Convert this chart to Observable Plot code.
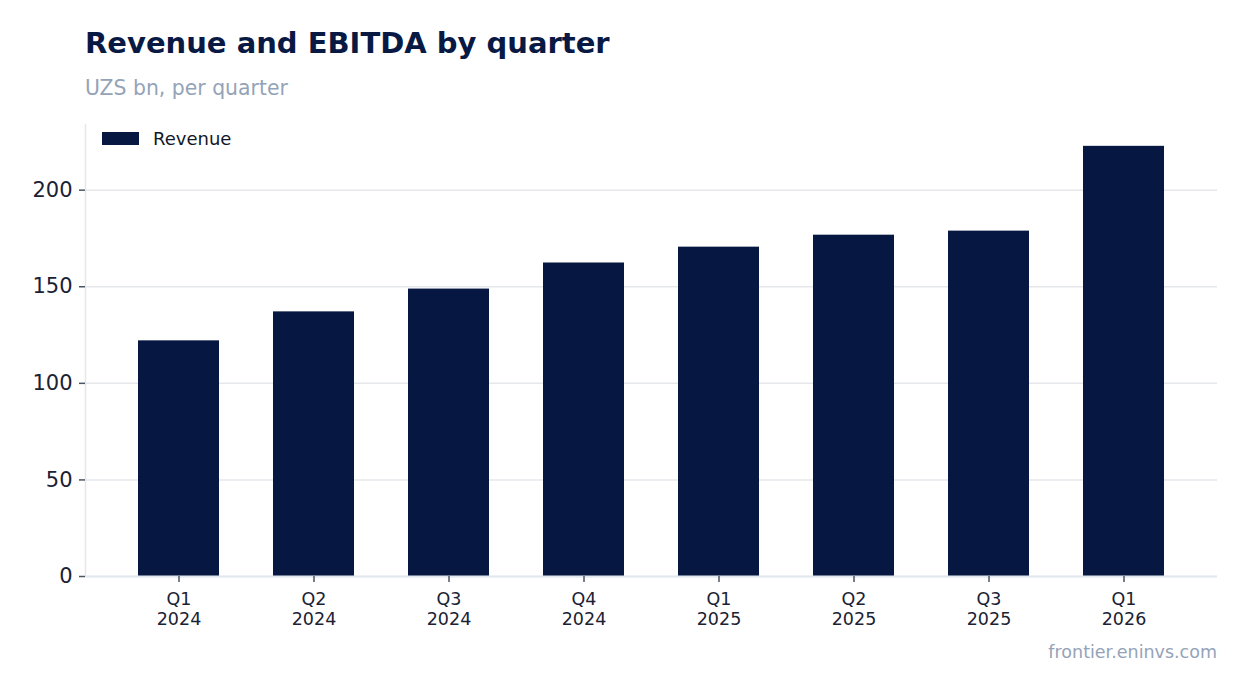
<!DOCTYPE html>
<html>
<head>
<meta charset="utf-8">
<script src="https://cdn.jsdelivr.net/npm/d3@7"></script>
<script src="https://cdn.jsdelivr.net/npm/@observablehq/plot@0.6"></script>
<style>
  html, body { margin: 0; padding: 0; background: #fff; }
  body { width: 1247px; height: 693px; position: relative; overflow: hidden; font-family: "DejaVu Sans", sans-serif; }
  #title { position: absolute; left: 85px; top: 26px; font-size: 29px; font-weight: bold; color: #081944; white-space: nowrap; }
  #subtitle { position: absolute; left: 85px; top: 76px; font-size: 20.4px; color: #94a3b8; white-space: nowrap; }
  #chart { position: absolute; left: 0; top: 110px; }
  #legend { position: absolute; left: 102px; top: 128px; display: flex; align-items: center; font-size: 18px; color: #111827; }
  #legend .sw { width: 37px; height: 13px; background: #061741; margin-right: 14px; }
  #caption { position: absolute; right: 30px; top: 642px; font-size: 17.5px; color: #94a3b8; white-space: nowrap; }
</style>
</head>
<body>
<div id="title">Revenue and EBITDA by quarter</div>
<div id="subtitle">UZS bn, per quarter</div>
<div id="chart"></div>
<div id="legend"><div class="sw"></div><span>Revenue</span></div>
<div id="caption">frontier.eninvs.com</div>
<script>
const quarters = ["Q1", "Q2", "Q3", "Q4", "Q1", "Q2", "Q3", "Q1"];
const years = ["2024", "2024", "2024", "2024", "2025", "2025", "2025", "2026"];
const revenue = [122, 137, 148.8, 162.3, 170.5, 176.7, 178.8, 222.7];
const yTicks = [0, 50, 100, 150, 200];

const labels = quarters.map((q, i) => `${q}\n${years[i]}`);
const data = labels.map((label, i) => ({label, value: revenue[i]}));

const plot = Plot.plot({
  width: 1247,
  height: 520,
  marginLeft: 85,
  marginRight: 30,
  marginTop: 14,
  marginBottom: 54,
  style: {fontFamily: "DejaVu Sans, sans-serif", background: "transparent"},
  x: {domain: labels, paddingInner: 0.4, paddingOuter: 0.37, label: null},
  y: {domain: [0, 234], label: null},
  marks: [
    Plot.gridY(yTicks, {stroke: "#e5e7eb", strokeOpacity: 1, strokeWidth: 1.5}),
    Plot.frame({anchor: "left", stroke: "#e5e7eb", strokeWidth: 1.5}),
    Plot.barY(data, {x: "label", y: "value", fill: "#061741"}),
    Plot.ruleY([0], {stroke: "#e2e8f0", strokeWidth: 2}),
    Plot.axisY(yTicks, {tickSize: 6, tickPadding: 7, fontSize: 21, fill: "#1a2233", stroke: "#4b5563", strokeWidth: 1.5, label: null}),
    Plot.axisX({tickSize: 6, tickPadding: 8, fontSize: 17.5, lineHeight: 1.15, fill: "#1a2233", stroke: "#4b5563", strokeWidth: 1.5, label: null})
  ]
});
document.getElementById("chart").appendChild(plot);
</script>
</body>
</html>
